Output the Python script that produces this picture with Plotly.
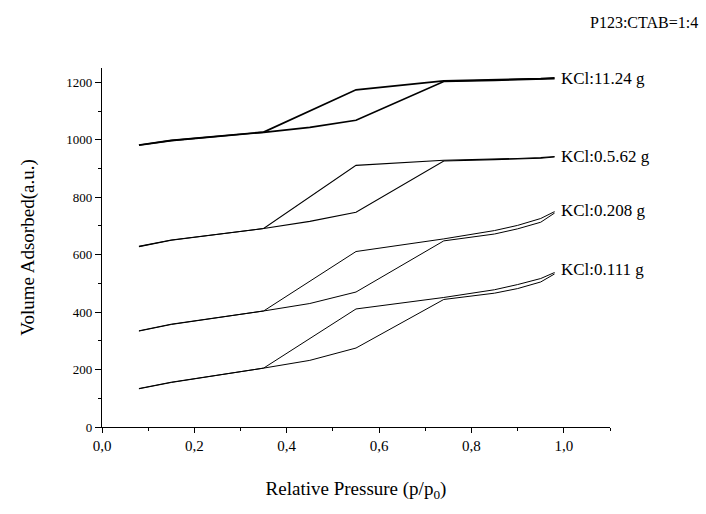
import plotly.graph_objects as go

# Relative pressure points
x_ads = [0.08, 0.15, 0.35, 0.45, 0.55, 0.74, 0.85, 0.90, 0.95, 0.98]
x_des = [0.98, 0.95, 0.90, 0.85, 0.74, 0.55, 0.35, 0.15, 0.08]

# Series values (Volume adsorbed, a.u.)
s1_ads = [981, 997, 1026, 1043, 1068, 1203, 1207, 1209, 1211, 1213]
s1_des = [1216, 1213, 1211, 1209, 1205, 1174, 1027, 998, 982]

s2_ads = [628, 650, 691, 716, 748, 926, 931, 933, 936, 940]
s2_des = [942, 938, 935, 933, 929, 911, 691, 651, 629]

s3_ads = [334, 357, 404, 430, 470, 648, 672, 690, 713, 745]
s3_des = [750, 726, 702, 684, 655, 611, 404, 358, 335]

s4_ads = [133, 155, 205, 232, 275, 444, 466, 482, 505, 533]
s4_des = [538, 517, 496, 478, 451, 411, 205, 156, 134]

labels = ["KCl:11.24 g", "KCl:0.5.62 g", "KCl:0.208 g", "KCl:0.111 g"]
label_y = [1212, 943, 755, 550]
title_note = "P123:CTAB=1:4"

series = [(s1_ads, s1_des, 1.7), (s2_ads, s2_des, 1.1), (s3_ads, s3_des, 1.0), (s4_ads, s4_des, 1.0)]

fig = go.Figure()
for ads, des, w in series:
    fig.add_trace(go.Scatter(x=x_ads, y=ads, mode="lines",
                             line=dict(color="black", width=w), showlegend=False))
    fig.add_trace(go.Scatter(x=x_des, y=des, mode="lines",
                             line=dict(color="black", width=w), showlegend=False))

font_family = "Liberation Serif"

for lab, ly in zip(labels, label_y):
    fig.add_annotation(x=0.99, y=ly, xref="x", yref="y", text=lab, showarrow=False,
                       xanchor="left", yanchor="middle",
                       font=dict(family=font_family, size=17, color="black"))

fig.add_annotation(x=1.177, y=1.128, xref="paper", yref="paper", text=title_note,
                   showarrow=False, xanchor="right", yanchor="middle",
                   font=dict(family=font_family, size=16, color="black"))

fig.update_layout(
    width=706, height=514,
    margin=dict(l=102, r=96, t=68, b=87),
    paper_bgcolor="white", plot_bgcolor="white",
    separators=", ",
    font=dict(family=font_family, color="black"),
    showlegend=False,
)

fig.update_xaxes(
    range=[0, 1.1], tickmode="array", tickvals=[0, 0.2, 0.4, 0.6, 0.8, 1.0],
    tickformat=".1f",
    ticks="outside", ticklen=5, tickwidth=1, tickcolor="black",
    minor=dict(ticks="outside", ticklen=3, tickwidth=1, tickcolor="black", dtick=0.1, tick0=0, showgrid=False),
    showline=True, linecolor="black", linewidth=1.2, mirror=False,
    showgrid=False, zeroline=False,
    tickfont=dict(family=font_family, size=15, color="black"),
    title=dict(text="Relative Pressure (p/p<sub>0</sub>)", standoff=28,
               font=dict(family=font_family, size=19, color="black")),
)

fig.update_yaxes(
    range=[0, 1250], tickmode="array", tickvals=[0, 200, 400, 600, 800, 1000, 1200],
    ticks="outside", ticklen=6, tickwidth=1, tickcolor="black",
    minor=dict(ticks="outside", ticklen=3, tickwidth=1, tickcolor="black", dtick=100, tick0=0, showgrid=False),
    showline=True, linecolor="black", linewidth=1.2, mirror=False,
    showgrid=False, zeroline=False,
    tickfont=dict(family=font_family, size=13, color="black"),
    title=dict(text="Volume Adsorbed(a.u.)", standoff=26,
               font=dict(family=font_family, size=19, color="black")),
)

fig.write_html("out.html")
